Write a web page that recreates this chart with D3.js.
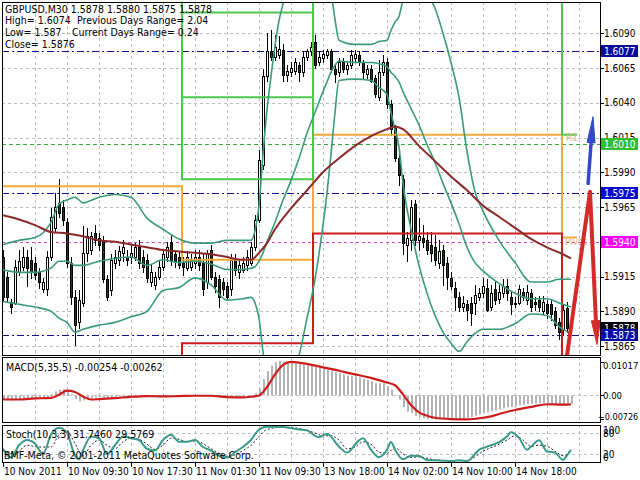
<!DOCTYPE html>
<html><head><meta charset="utf-8">
<script src="https://cdn.jsdelivr.net/npm/d3@7"></script>
<style>
body{margin:0;background:#fff;}
svg text{font-family:"DejaVu Sans Condensed","Liberation Sans",sans-serif;}
</style></head><body>
<svg id="c" width="640" height="480"></svg>
<script>
// ---------------- DATA ----------------
const open = [1.5929,1.5915,1.5897,1.5896,1.5918,1.5922,1.5929,1.5927,1.5925,1.5918,1.5906,1.5906,1.5929,1.5950,1.5968,1.5965,1.5954,1.5925,1.5900,1.5882,
1.5896,1.5932,1.5934,1.5946,1.5943,1.5941,1.5913,1.5905,1.5925,1.5927,1.5932,1.5929,1.5929,1.5929,1.5936,1.5929,1.5927,1.5911,1.5909,1.5915,
1.5922,1.5929,1.5940,1.5931,1.5929,1.5925,1.5921,1.5922,1.5925,1.5929,1.5925,1.5911,1.5934,1.5915,1.5913,1.5911,1.5908,1.5906,1.5927,1.5918,
1.5920,1.5923,1.5925,1.5936,1.5956,1.5995,1.6059,1.6077,1.6073,1.6074,1.6078,1.6060,1.6062,1.6063,1.6067,1.6062,1.6073,1.6077,1.6084,1.6069,
1.6072,1.6074,1.6077,1.6064,1.6062,1.6069,1.6064,1.6067,1.6072,1.6074,1.6069,1.6061,1.6064,1.6058,1.6044,1.6062,1.6069,1.6039,1.6022,1.6000,
1.5985,1.5938,1.5941,1.5967,1.5941,1.5943,1.5941,1.5938,1.5936,1.5925,1.5934,1.5925,1.5914,1.5907,1.5900,1.5893,1.5895,1.5896,1.5896,1.5900,
1.5903,1.5907,1.5893,1.5906,1.5899,1.5903,1.5908,1.5900,1.5895,1.5896,1.5904,1.5898,1.5903,1.5897,1.5898,1.5890,1.5895,1.5895,1.5890,1.5882,
1.5877,1.5892,1.5878];
const high = [1.5934,1.5918,1.5899,1.5927,1.5934,1.5936,1.5934,1.5936,1.5929,1.5921,1.5914,1.5933,1.5964,1.5975,1.5985,1.5970,1.5957,1.5929,1.5905,1.5905,
1.5951,1.5950,1.5947,1.5952,1.5946,1.5944,1.5916,1.5931,1.5934,1.5937,1.5941,1.5934,1.5938,1.5939,1.5941,1.5934,1.5931,1.5923,1.5918,1.5926,
1.5934,1.5940,1.5945,1.5934,1.5933,1.5929,1.5933,1.5931,1.5934,1.5934,1.5931,1.5934,1.5938,1.5918,1.5916,1.5914,1.5911,1.5931,1.5931,1.5927,
1.5929,1.5934,1.5940,1.5959,1.6006,1.6064,1.6090,1.6092,1.6089,1.6088,1.6082,1.6067,1.6069,1.6072,1.6069,1.6077,1.6079,1.6084,1.6089,1.6077,
1.6078,1.6079,1.6079,1.6067,1.6072,1.6072,1.6069,1.6078,1.6078,1.6077,1.6071,1.6067,1.6067,1.6060,1.6071,1.6074,1.6072,1.6042,1.6024,1.6006,
1.5988,1.5947,1.5970,1.5970,1.5957,1.5952,1.5947,1.5947,1.5945,1.5941,1.5938,1.5929,1.5918,1.5911,1.5904,1.5901,1.5898,1.5900,1.5909,1.5907,
1.5914,1.5913,1.5909,1.5911,1.5909,1.5913,1.5913,1.5904,1.5900,1.5909,1.5907,1.5909,1.5906,1.5900,1.5901,1.5901,1.5898,1.5898,1.5893,1.5885,
1.5895,1.5897,1.5880];
const low = [1.5898,1.5897,1.5889,1.5895,1.5916,1.5920,1.5908,1.5914,1.5913,1.5907,1.5904,1.5902,1.5927,1.5947,1.5958,1.5952,1.5922,1.5895,1.5866,1.5878,
1.5894,1.5926,1.5931,1.5938,1.5934,1.5911,1.5898,1.5902,1.5921,1.5923,1.5926,1.5923,1.5925,1.5927,1.5921,1.5918,1.5911,1.5908,1.5906,1.5913,
1.5920,1.5926,1.5923,1.5922,1.5921,1.5916,1.5920,1.5920,1.5921,1.5920,1.5902,1.5907,1.5913,1.5904,1.5893,1.5902,1.5898,1.5902,1.5916,1.5914,
1.5918,1.5920,1.5923,1.5934,1.5954,1.5992,1.6056,1.6071,1.6071,1.6072,1.6056,1.6056,1.6059,1.6061,1.6056,1.6059,1.6071,1.6074,1.6065,1.6067,
1.6069,1.6072,1.6062,1.6055,1.6059,1.6062,1.6061,1.6065,1.6069,1.6067,1.6058,1.6058,1.6055,1.6044,1.6042,1.6060,1.6036,1.6017,1.5998,1.5981,
1.5931,1.5926,1.5934,1.5938,1.5934,1.5936,1.5931,1.5926,1.5923,1.5921,1.5909,1.5906,1.5906,1.5891,1.5890,1.5890,1.5884,1.5880,1.5888,1.5898,
1.5900,1.5890,1.5891,1.5895,1.5896,1.5900,1.5898,1.5888,1.5893,1.5895,1.5898,1.5895,1.5890,1.5891,1.5890,1.5888,1.5885,1.5884,1.5878,1.5870,
1.5873,1.5875,1.5875];
const close = [1.5900,1.5900,1.5893,1.5922,1.5926,1.5929,1.5921,1.5918,1.5916,1.5911,1.5911,1.5929,1.5958,1.5965,1.5961,1.5956,1.5925,1.5900,1.5880,1.5898,
1.5932,1.5944,1.5944,1.5941,1.5938,1.5913,1.5900,1.5927,1.5929,1.5933,1.5936,1.5927,1.5932,1.5936,1.5925,1.5922,1.5914,1.5918,1.5915,1.5922,
1.5931,1.5936,1.5927,1.5926,1.5923,1.5922,1.5929,1.5927,1.5929,1.5923,1.5906,1.5932,1.5915,1.5908,1.5900,1.5906,1.5900,1.5927,1.5920,1.5923,
1.5925,1.5929,1.5936,1.5956,1.5999,1.6059,1.6077,1.6073,1.6080,1.6079,1.6060,1.6063,1.6065,1.6069,1.6062,1.6073,1.6077,1.6080,1.6067,1.6073,
1.6075,1.6077,1.6064,1.6061,1.6069,1.6064,1.6067,1.6074,1.6075,1.6069,1.6062,1.6064,1.6056,1.6046,1.6062,1.6069,1.6039,1.6021,1.6000,1.5988,
1.5939,1.5943,1.5965,1.5941,1.5944,1.5940,1.5934,1.5932,1.5927,1.5933,1.5923,1.5915,1.5908,1.5900,1.5893,1.5896,1.5891,1.5889,1.5902,1.5903,
1.5908,1.5891,1.5903,1.5898,1.5904,1.5908,1.5903,1.5895,1.5896,1.5906,1.5900,1.5904,1.5893,1.5895,1.5893,1.5897,1.5889,1.5888,1.5880,1.5875,
1.5891,1.5878,1.5878];

const bbIdx = [0,4,8,12,14,16,18,20,24,28,32,36,40,44,48,52,56,60,62,63,64,65,66,67,68,69,70,72,74,76,78,80,81,82,83,84,88,92,94,96,97,98,99,100,102,104,106,108,110,112,114,116,118,120,124,128,132,136,139,142];
const bbUpper = [1.5938,1.5941,1.5943,1.5954,1.5967,1.5970,1.5972,1.5968,1.5972,1.5974,1.5972,1.5957,1.5949,1.5942,1.5939,1.5939,1.5941,1.5941,1.5941,1.5948,
1.5966,1.6003,1.6035,1.6059,1.6081,1.6099,1.6111,1.6129,1.6143,1.6150,1.6152,1.6144,1.6136,1.6120,1.6100,1.6085,1.6082,1.6082,1.6084,1.6085,
1.6092,1.6098,1.6102,1.6114,1.6124,1.6126,1.6118,1.6108,1.6090,1.6069,1.6044,1.6005,1.5976,1.5962,1.5941,1.5925,1.5911,1.5911,1.5913,1.5913];
const bbMiddle = [1.5920,1.5918,1.5918,1.5921,1.5926,1.5926,1.5923,1.5923,1.5926,1.5928,1.5929,1.5923,1.5927,1.5925,1.5926,1.5924,1.5920,1.5920,1.5921,1.5922,
1.5926,1.5932,1.5940,1.5947,1.5954,1.5962,1.5970,1.5984,1.6000,1.6018,1.6033,1.6048,1.6055,1.6062,1.6067,1.6070,1.6069,1.6069,1.6068,1.6066,
1.6062,1.6059,1.6055,1.6048,1.6036,1.6024,1.6010,1.5997,1.5982,1.5968,1.5953,1.5936,1.5925,1.5919,1.5910,1.5903,1.5899,1.5899,1.5896,1.5893];
const bbLower = [1.5897,1.5895,1.5893,1.5890,1.5885,1.5882,1.5875,1.5877,1.5880,1.5882,1.5886,1.5890,1.5905,1.5907,1.5914,1.5909,1.5898,1.5899,1.5900,1.5896,
1.5885,1.5861,1.5844,1.5836,1.5828,1.5826,1.5826,1.5839,1.5858,1.5885,1.5913,1.5952,1.5975,1.6003,1.6033,1.6056,1.6057,1.6056,1.6051,1.6046,
1.6033,1.6021,1.6008,1.5982,1.5949,1.5923,1.5903,1.5887,1.5875,1.5867,1.5861,1.5868,1.5874,1.5877,1.5877,1.5881,1.5888,1.5887,1.5879,1.5874];

// Slow moving average (maroon)
const maIdx = [0,4,8,12,16,20,24,28,32,36,40,44,48,52,56,60,62,64,66,68,72,76,80,84,88,92,96,98,100,104,108,112,116,120,124,128,132,136,140,142];
const maVal = [1.5959,1.5956,1.5952,1.5947,1.5946,1.5944,1.5941,1.5940,1.5938,1.5936,1.5934,1.5933,1.5932,1.5931,1.5929,1.5927,1.5927,1.5932,1.5939,1.5949,
1.5964,1.5977,1.5990,1.6000,1.6009,1.6016,1.6021,1.6023,1.6021,1.6009,1.5998,1.5987,1.5977,1.5966,1.5958,1.5950,1.5942,1.5936,1.5931,1.5928];

// Daily pivot levels
const dayBounds = [-0.25, 44.75, 77.5, 139.75, 143.5];
const r1Level = [1.6150, 1.5985, 1.6150, 1.6017];
const pivotLevel = [1.5980, 1.5927, 1.6017, 1.5943];
const s1Level = [1.5840, 1.5867, 1.5946, 1.5840];
const r2Day2 = 1.6044, r3Day2 = 1.6105;

// Horizontal price levels
const navyLevels = [1.6077, 1.5975, 1.5873];
const greenLevel = 1.6010;
const magentaLevel = 1.5940;
const priceTicks = [1.6090,1.6065,1.6040,1.6015,1.5990,1.5965,1.5940,1.5915,1.5890,1.5865];
const priceBoxes = [[1.6077,"#0a0a9a"],[1.6010,"#33bb33"],[1.5975,"#0a0acc"],[1.5940,"#ff00ff"],[1.5878,"#000000"],[1.5873,"#0a0aa8"]];

// Projection arrows
const redArrowIdx = [141, 146.75, 148.5];
const redArrowVal = [1.5858, 1.5976, 1.5866];
const blueArrowIdx = [146.25, 147.5];
const blueArrowVal = [1.5981, 1.6030];

// MACD(5,35,5)
const macdMain = [-0.0013,-0.0014,-0.0015,-0.0012,-0.0010,-0.0008,-0.0008,-0.0008,-0.0008,-0.0009,-0.0010,-0.0007,0.0003,0.0012,0.0017,0.0019,0.0015,0.0004,-0.0010,-0.0018,
-0.0015,-0.0011,-0.0008,-0.0006,-0.0005,-0.0007,-0.0010,-0.0008,-0.0006,-0.0004,-0.0002,-0.0002,-0.0001,0.0000,-0.0001,-0.0002,-0.0004,-0.0005,-0.0005,-0.0004,
-0.0002,0.0000,-0.0001,-0.0001,-0.0002,-0.0002,-0.0001,-0.0001,0.0000,-0.0001,-0.0004,-0.0002,-0.0003,-0.0005,-0.0007,-0.0008,-0.0009,-0.0006,-0.0005,-0.0004,
-0.0003,-0.0002,0.0000,0.0006,0.0020,0.0048,0.0072,0.0088,0.0098,0.01017,0.0100,0.0098,0.0096,0.0095,0.0092,0.0091,0.0089,0.0088,0.0084,0.0082,
0.0079,0.0077,0.0073,0.0069,0.0066,0.0062,0.0059,0.0058,0.0056,0.0053,0.0049,0.0046,0.0042,0.0036,0.0036,0.0036,0.0028,0.0017,0.0002,-0.0012,
-0.0035,-0.0048,-0.0052,-0.0060,-0.0064,-0.0067,-0.0069,-0.0070,-0.0071,-0.0070,-0.0071,-0.0072,-0.00726,-0.0072,-0.0071,-0.0069,-0.0067,-0.0064,-0.0060,-0.0056,
-0.0052,-0.0050,-0.0047,-0.0044,-0.0041,-0.0038,-0.0035,-0.0034,-0.0032,-0.0029,-0.0027,-0.0025,-0.0025,-0.0024,-0.0023,-0.0022,-0.0023,-0.0024,-0.0027,-0.0030,
-0.0027,-0.0026,-0.00254];
const sigIdx = [0,4,8,12,14,16,18,20,22,24,28,32,36,40,44,48,52,56,60,62,64,66,68,70,72,74,76,80,84,88,92,96,98,100,102,104,106,108,112,116,120,122,124,128,132,136,140,142];
const macdSignal = [-0.0012,-0.0012,-0.0009,-0.0007,0.0002,0.0014,0.0010,-0.0003,-0.0012,-0.0011,-0.0008,-0.0004,-0.0002,-0.0003,-0.0002,-0.0001,-0.0001,-0.0005,-0.0006,-0.0004,
0.0000,0.0025,0.0062,0.0090,0.0099,0.0097,0.0093,0.0083,0.0073,0.0062,0.0052,0.0038,0.0030,0.0003,-0.0028,-0.0050,-0.0060,-0.0066,-0.0070,-0.0071,
-0.0066,-0.0062,-0.0055,-0.0043,-0.0034,-0.0026,-0.0027,-0.00262];
const macdTicks = [0.01017, 0.00, -0.00726];

// Stochastic(10,3,3)
const stIdx = [0,2,4,6,8,10,12,14,16,18,19,20,22,24,26,28,30,32,34,36,38,40,42,44,46,48,50,52,54,56,58,60,62,64,66,70,74,76,78,79,81,84,86,89,90,92,94,96,97,98,100,102,104,106,108,110,112,114,116,119,121,124,126,127,129,131,132,134,136,138,140,141,142];
const stochMain = [35,10,45,60,50,20,75,95,80,15,5,30,70,65,20,45,70,65,60,35,30,60,75,55,55,60,40,30,15,10,25,40,60,90,98,97,90,88,72,68,78,41,24,59,65,32,11,32,54,32,5,15,14,3,2,1,0,2,0,32,41,54,70,82,66,32,41,59,27,24,3,16,31.75];
const sgIdx = [0,3,6,9,12,14,16,18,20,22,24,26,28,30,32,34,36,38,40,42,44,46,48,50,52,54,56,58,60,62,64,66,70,74,78,80,82,84,86,88,90,92,94,96,98,100,102,104,106,108,112,116,118,120,122,124,126,128,130,132,134,136,138,140,142];
const stochSignal = [30,20,45,40,40,75,85,50,15,45,60,45,35,55,65,62,48,33,45,65,62,55,57,50,35,22,13,18,30,45,70,90,97,93,80,72,72,60,35,40,55,48,25,22,38,20,10,12,8,3,1,1,12,28,38,48,60,72,60,42,45,42,28,15,29.58];
const stochLevels = [80, 20];
const stochTicks = [100, 80, 20, 0];

// Time axis
const timeIdx = [0,16,32,48,64,80,96,112,128];
const timeLabels = ["10 Nov 2011","10 Nov 09:30","10 Nov 17:30","11 Nov 01:30","11 Nov 09:30","13 Nov 18:00","14 Nov 02:00","14 Nov 10:00","14 Nov 18:00"];

// ---------------- DRAWING ----------------
const svg = d3.select('#c');
const x = d3.scaleLinear().domain([0, 149.25]).range([3, 600]);
const yP = d3.scaleLinear().domain([1.5865, 1.6090]).range([346, 33.25]);
const yM = d3.scaleLinear().domain([-0.00726, 0.01017]).range([420, 361]);
const yS = d3.scaleLinear().domain([0, 100]).range([461, 426]);
const panels = {main:[2,2,600,355], macd:[2,357,600,422], stoch:[2,425,600,462]};
const px = v => Math.round(v) + 0.5;

const defs = svg.append('defs');
Object.entries(panels).forEach(([k,p]) => {
  defs.append('clipPath').attr('id','clip-'+k).append('rect')
    .attr('x',p[0]+1).attr('y',p[1]+1).attr('width',p[2]-p[0]-1).attr('height',p[3]-p[1]-1);
});
const gMain = svg.append('g').attr('clip-path','url(#clip-main)');
const gMacd = svg.append('g').attr('clip-path','url(#clip-macd)');
const gStoch = svg.append('g').attr('clip-path','url(#clip-stoch)');

// vertical grid in all panels
const gridBars = d3.range(8, 150, 8);
[[gMain,panels.main],[gMacd,panels.macd],[gStoch,panels.stoch]].forEach(([g,p]) => {
  g.selectAll('line.vg').data(gridBars).join('line')
    .attr('x1', d => px(x(d))).attr('x2', d => px(x(d)))
    .attr('y1', p[1]).attr('y2', p[3])
    .attr('stroke','#bdbdbd').attr('stroke-dasharray','3,3');
});
// horizontal grid
gMain.selectAll('line.hg').data(priceTicks).join('line')
  .attr('x1',2).attr('x2',600).attr('y1', d => px(yP(d))).attr('y2', d => px(yP(d)))
  .attr('stroke','#bdbdbd').attr('stroke-dasharray','3,3');
gMacd.append('line').attr('x1',2).attr('x2',600).attr('y1',px(yM(0))).attr('y2',px(yM(0)))
  .attr('stroke','#bdbdbd').attr('stroke-dasharray','3,3');
gStoch.selectAll('line.sl').data(stochLevels).join('line')
  .attr('x1',2).attr('x2',600).attr('y1', d => px(yS(d))).attr('y2', d => px(yS(d)))
  .attr('stroke','#bdbdbd').attr('stroke-dasharray','3,3');

// special horizontal levels
gMain.selectAll('line.nv').data(navyLevels).join('line')
  .attr('x1',2).attr('x2',600).attr('y1', d => px(yP(d))).attr('y2', d => px(yP(d)))
  .attr('stroke','#10108a').attr('stroke-dasharray','7,3,2,3');
gMain.append('line').attr('x1',2).attr('x2',600).attr('y1',px(yP(greenLevel))).attr('y2',px(yP(greenLevel)))
  .attr('stroke','#33aa33').attr('stroke-dasharray','4,3');
gMain.append('line').attr('x1',2).attr('x2',600).attr('y1',px(yP(magentaLevel))).attr('y2',px(yP(magentaLevel)))
  .attr('stroke','#d040d0').attr('stroke-dasharray','3,3');

// candles
const bars = d3.range(close.length);
const cg = gMain.append('g');
cg.selectAll('line.w').data(bars).join('line')
  .attr('x1', i => Math.round(x(i))+0.5).attr('x2', i => Math.round(x(i))+0.5)
  .attr('y1', i => Math.round(yP(high[i]))).attr('y2', i => Math.round(yP(low[i]))+1)
  .attr('stroke','#000');
cg.selectAll('rect.b').data(bars).join('rect')
  .attr('x', i => Math.round(x(i))-0.5).attr('width',2)
  .attr('y', i => Math.round(yP(Math.max(open[i],close[i])))+0.5)
  .attr('height', i => Math.max(0, Math.round(yP(Math.min(open[i],close[i]))) - Math.round(yP(Math.max(open[i],close[i])))))
  .attr('fill', i => close[i] >= open[i] ? '#ffffff' : '#173b17')
  .attr('stroke','#000').attr('stroke-width',1);

// pivot step lines
const stepLine = d3.line().x(d => x(d[0])).y(d => yP(d[1])).curve(d3.curveStepAfter);
function stepPts(vals){
  const pts = vals.map((v,k) => [dayBounds[k], v]);
  pts.push([dayBounds[dayBounds.length-1], vals[vals.length-1]]);
  return pts;
}
gMain.append('path').attr('d', stepLine(stepPts(pivotLevel))).attr('fill','none').attr('stroke','#f0aa38').attr('stroke-width',2);
gMain.append('path').attr('d', stepLine(stepPts(s1Level))).attr('fill','none').attr('stroke','#cc1c1c').attr('stroke-width',2);
gMain.append('path').attr('d', stepLine(stepPts(r1Level))).attr('fill','none').attr('stroke','#4cc84c').attr('stroke-width',2);
[r2Day2, r3Day2].forEach(v => {
  gMain.append('line').attr('x1', x(dayBounds[1])).attr('x2', x(dayBounds[2]))
    .attr('y1', yP(v)).attr('y2', yP(v)).attr('stroke','#4cc84c').attr('stroke-width',2);
});

// Bollinger + MA
const lineP = d3.line().x(d => x(d[0])).y(d => yP(d[1])).curve(d3.curveMonotoneX);
[bbUpper, bbMiddle, bbLower].forEach(arr => {
  gMain.append('path').attr('d', lineP(bbIdx.map((b,k) => [b, arr[k]])))
    .attr('fill','none').attr('stroke','#3a9a7c').attr('stroke-width',1.6);
});
gMain.append('path').attr('d', lineP(maIdx.map((b,k) => [b, maVal[k]])))
  .attr('fill','none').attr('stroke','#8b2a2a').attr('stroke-width',2);

// level labels
gMain.append('text').attr('x',566).attr('y',141).style('font-size','10px').attr('fill','#e8b878').text('R1');
gMain.append('text').attr('x',565).attr('y',245).style('font-size','10px').attr('fill','#e8b878').text('Pivot');

// arrows
function arrow(idx, vals, color, w, headLen, headHalf){
  const pts = idx.map((b,k) => [x(b), yP(vals[k])]);
  const n = pts.length;
  const [x1,y1] = pts[n-2], [x2,y2] = pts[n-1];
  const L = Math.hypot(x2-x1, y2-y1), ux = (x2-x1)/L, uy = (y2-y1)/L;
  const bx = x2 - ux*headLen, by = y2 - uy*headLen;
  const linePts = pts.slice(0, n-1).concat([[bx + ux*2, by + uy*2]]);
  gMain.append('path').attr('d', d3.line()(linePts)).attr('fill','none')
    .attr('stroke',color).attr('stroke-width',w).attr('stroke-linejoin','round');
  gMain.append('path').attr('d', d3.line()([[x2,y2],[bx - uy*headHalf, by + ux*headHalf],[bx + uy*headHalf, by - ux*headHalf]]) + 'Z')
    .attr('fill',color).attr('stroke',color);
}
arrow(redArrowIdx, redArrowVal, '#d42a2a', 4, 24, 4.5);
arrow(blueArrowIdx, blueArrowVal, '#3548c8', 3.5, 26, 4);

// MACD
gMacd.selectAll('rect.h').data(bars).join('rect')
  .attr('x', i => Math.round(x(i))).attr('width',2)
  .attr('y', i => Math.min(yM(macdMain[i]), yM(0)))
  .attr('height', i => Math.abs(yM(macdMain[i]) - yM(0)))
  .attr('fill','#b4b4b4');
gMacd.append('path').attr('d', d3.line().x(d => x(d[0])).y(d => yM(d[1])).curve(d3.curveMonotoneX)(sigIdx.map((b,k) => [b, macdSignal[k]])))
  .attr('fill','none').attr('stroke','#cc1c1c').attr('stroke-width',2.2);

// Stochastic
const lineS = d3.line().x(d => x(d[0])).y(d => yS(d[1])).curve(d3.curveMonotoneX);
gStoch.append('path').attr('d', lineS(sgIdx.map((b,k) => [b, stochSignal[k]])))
  .attr('fill','none').attr('stroke','#222').attr('stroke-width',1).attr('stroke-dasharray','2,2');
gStoch.append('path').attr('d', lineS(stIdx.map((b,k) => [b, stochMain[k]])))
  .attr('fill','none').attr('stroke','#3a9a8c').attr('stroke-width',2);

// panel borders
Object.values(panels).forEach(p => {
  svg.append('rect').attr('x',p[0]+0.5).attr('y',p[1]+0.5).attr('width',p[2]-p[0]).attr('height',p[3]-p[1])
    .attr('fill','none').attr('stroke','#000');
});

// right price axis
const fmt4 = d3.format('.4f');
svg.selectAll('line.pt').data(priceTicks).join('line')
  .attr('x1',601).attr('x2',604).attr('y1', d => px(yP(d))).attr('y2', d => px(yP(d))).attr('stroke','#000');
svg.selectAll('text.pt').data(priceTicks).join('text')
  .attr('x',604).attr('y', d => yP(d)+3.5).style('font-size','10px').text(d => fmt4(d));
priceBoxes.forEach(([v,c]) => {
  const yy = Math.round(yP(v));
  svg.append('rect').attr('x',601).attr('y',yy-6).attr('width',37).attr('height',12).attr('fill',c);
  svg.append('text').attr('x',604).attr('y',yy+4).style('font-size','10px').attr('fill','#fff').text(fmt4(v));
});

// MACD axis
svg.selectAll('text.mt').data(macdTicks).join('text')
  .attr('x', d => d < 0 ? 598 : 603).attr('y', d => Math.max(365, Math.min(416, yM(d))) + 3.5)
  .style('font-size', d => d < 0 ? '9px' : '9.5px')
  .text(d => d === 0 ? '0.00' : d3.format('.5f')(d));
svg.selectAll('line.mt').data(macdTicks).join('line')
  .attr('x1',601).attr('x2',604).attr('y1', d => px(Math.max(362, Math.min(419, yM(d))))).attr('y2', d => px(Math.max(362, Math.min(419, yM(d))))).attr('stroke','#000');

// Stoch axis
svg.selectAll('text.st').data(stochTicks).join('text')
  .attr('x',603).attr('y', d => Math.max(430, Math.min(457, yS(d))) + 3.5).style('font-size','10px').text(d => d);

// time axis
svg.selectAll('line.tt').data(timeIdx).join('line')
  .attr('x1', d => px(x(d))).attr('x2', d => px(x(d))).attr('y1',462).attr('y2',467).attr('stroke','#000');
svg.selectAll('text.tt').data(timeIdx).join('text')
  .attr('x', d => x(d) + 1).attr('y', 475).style('font-size','10px').text((d,k) => timeLabels[k]);

// chart texts
const info = [["GBPUSD,M30  1.5878 1.5880 1.5875 1.5878",5,12.5],["High= 1.6074",5,24],["Previous Days Range= 2.04",77,24],
  ["Low= 1.587",5,36],["Current Days Range= 0.24",72,36],["Close= 1.5876",5,47.5],
  ["MACD(5,35,5) -0.00254 -0.00262",6,370.5],["Stoch(10,3,3) 31.7460 29.5769",6,437.5],
  ["BMF-Meta, \u00a9 2001-2011 MetaQuotes Software Corp.",4,458.5]];
svg.selectAll('text.info').data(info).join('text')
  .attr('x', d => d[1]).attr('y', d => d[2]).style('font-size','10.5px').attr('fill','#000').text(d => d[0]);
</script></body></html>
